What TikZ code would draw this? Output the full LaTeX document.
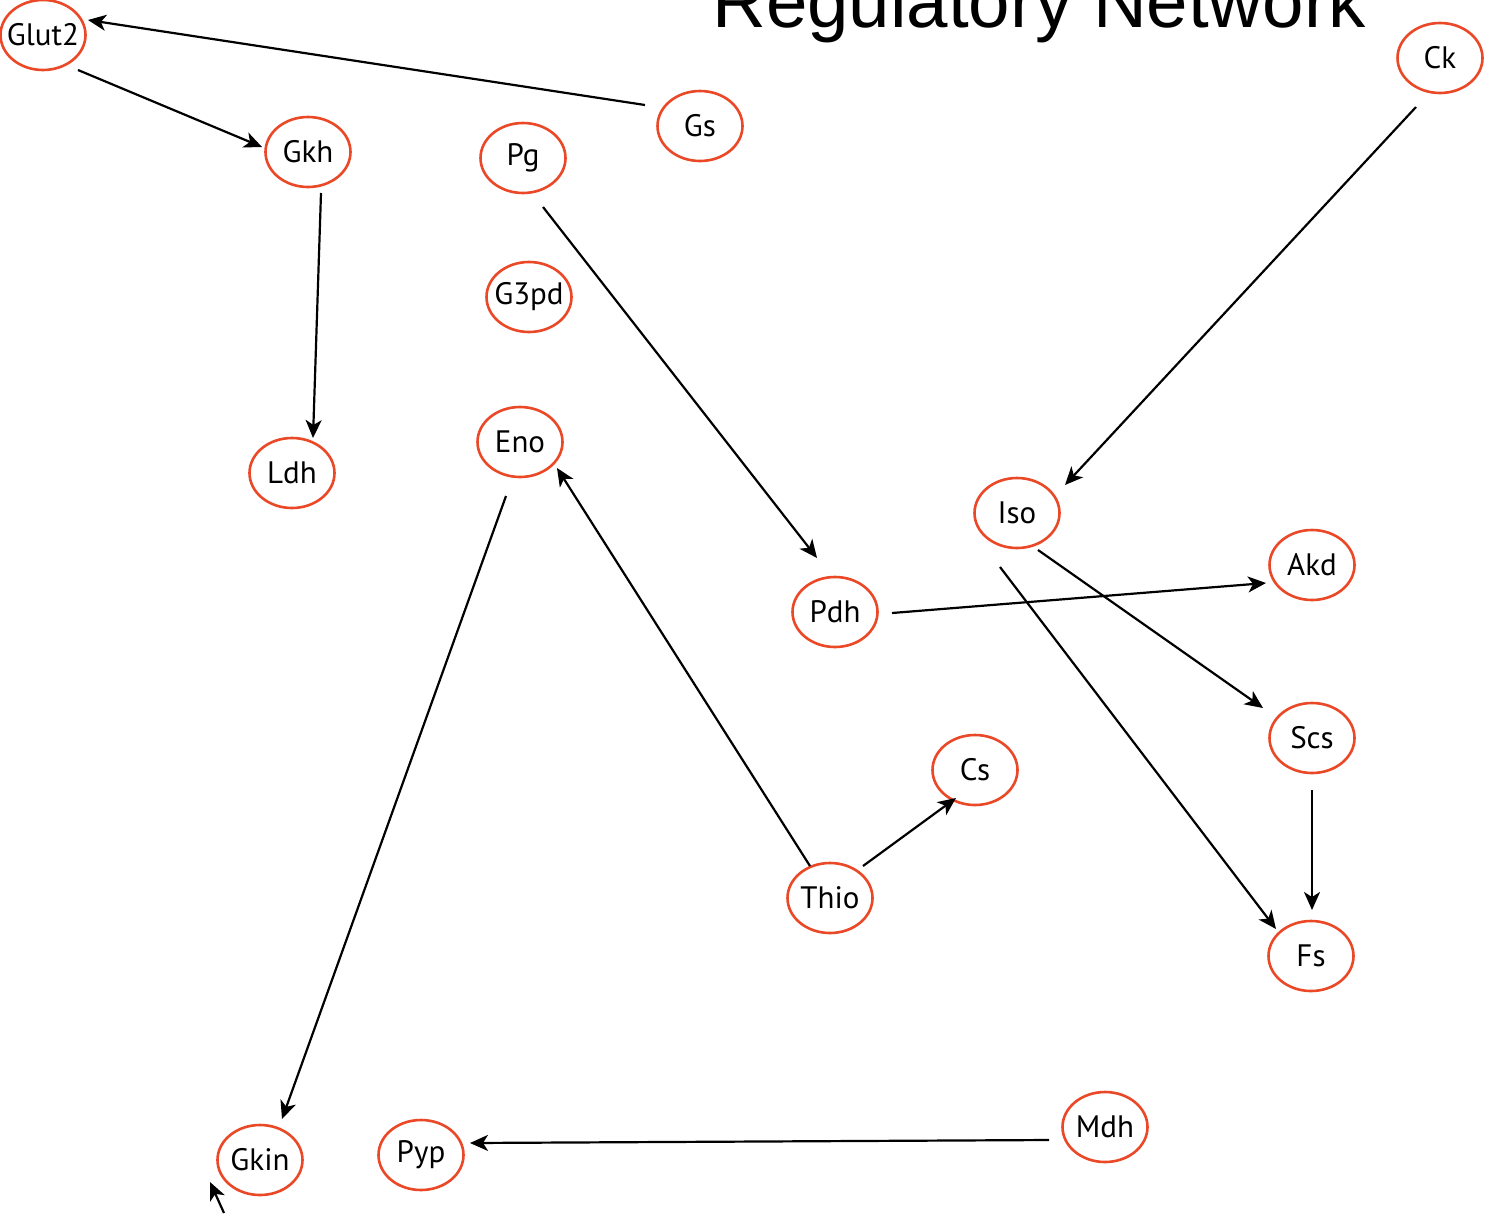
\documentclass[tikz,border=0pt]{standalone}
\usepackage{fontspec}
\setmainfont{PT Sans}
\newfontfamily\titlefont{Liberation Sans}
\usetikzlibrary{shapes.geometric,arrows.meta}
\definecolor{nodered}{RGB}{234,72,38}
\tikzset{
  gene/.style={draw=nodered, line width=2.6pt, ellipse, minimum width=85pt,
    minimum height=70pt, inner sep=0pt, font=\fontsize{31}{34}\selectfont},
  arr/.style={line width=2.2pt, -{Stealth[length=18pt,width=16pt,inset=5pt]}},
}
% gene label: zero-width box so the ellipse keeps its fixed size
\newcommand{\glabel}[1]{\makebox[0pt]{#1}}
\begin{document}
\begin{tikzpicture}[x=1pt,y=-1pt]
\useasboundingbox (0,0) rectangle (1487,1213);
\fill[white] (0,0) rectangle (1487,1213);

\node[anchor=base west, inner sep=0pt, font=\titlefont\fontsize{74.5}{80}\selectfont]
  (title) at (712,27) {Regulatory Network};

\node[gene] (glut) at (43,35)    {\glabel{Glut2}};
\node[gene] (gkh)  at (308,152)  {\glabel{Gkh}};
\node[gene] (pg)   at (523,158)  {\glabel{Pg}};
\node[gene] (gs)   at (700,126)  {\glabel{Gs}};
\node[gene] (ck)   at (1440,58)  {\glabel{Ck}};
\node[gene] (g3pd) at (529,297)  {\glabel{G3pd}};
\node[gene] (ldh)  at (292,473)  {\glabel{Ldh}};
\node[gene] (eno)  at (520,442)  {\glabel{Eno}};
\node[gene] (iso)  at (1017,513) {\glabel{Iso}};
\node[gene] (akd)  at (1312,565) {\glabel{Akd}};
\node[gene] (pdh)  at (835,612)  {\glabel{Pdh}};
\node[gene] (scs)  at (1312,738) {\glabel{Scs}};
\node[gene] (cs)   at (975,770)  {\glabel{Cs}};
\node[gene] (thio) at (830,898)  {\glabel{Thio}};
\node[gene] (fs)   at (1311,956) {\glabel{Fs}};
\node[gene] (mdh)  at (1105,1127){\glabel{Mdh}};
\node[gene] (gkin) at (260,1160) {\glabel{Gkin}};
\node[gene] (pyp)  at (421,1155) {\glabel{Pyp}};

\coordinate (loose) at ([shift={(-36,53)}]gkin.center);

\draw[arr] ([shift={(-55,-21)}]gs.center)   -- ([shift={(45,-15)}]glut.center);
\draw[arr] ([shift={(35,35)}]glut.center)   -- ([shift={(-46,-5)}]gkh.center);
\draw[arr] ([shift={(13,41)}]gkh.center)    -- ([shift={(21,-35)}]ldh.center);
\draw[arr] ([shift={(20,49)}]pg.center)     -- ([shift={(-18,-54)}]pdh.center);
\draw[arr] ([shift={(-24,49)}]ck.center)    -- ([shift={(48,-28)}]iso.center);
\draw[arr] ([shift={(21,37)}]iso.center)    -- ([shift={(-49,-30)}]scs.center);
\draw[arr] ([shift={(-17,54)}]iso.center)   -- ([shift={(-35,-27)}]fs.center);
\draw[arr] ([shift={(57,1)}]pdh.center)     -- ([shift={(-46,18)}]akd.center);
\draw[arr] ([shift={(0,52)}]scs.center)     -- ([shift={(1,-46)}]fs.center);
\draw[arr] ([shift={(-20,-32)}]thio.center) -- ([shift={(37,26)}]eno.center);
\draw[arr] ([shift={(33,-32)}]thio.center)  -- ([shift={(-19,28)}]cs.center);
\draw[arr] ([shift={(-14,54)}]eno.center)   -- ([shift={(22,-41)}]gkin.center);
\draw[arr] ([shift={(-56,13)}]mdh.center)   -- ([shift={(49,-12)}]pyp.center);
\draw[arr] (loose) -- ([shift={(-50,22)}]gkin.center);
\end{tikzpicture}
\end{document}
